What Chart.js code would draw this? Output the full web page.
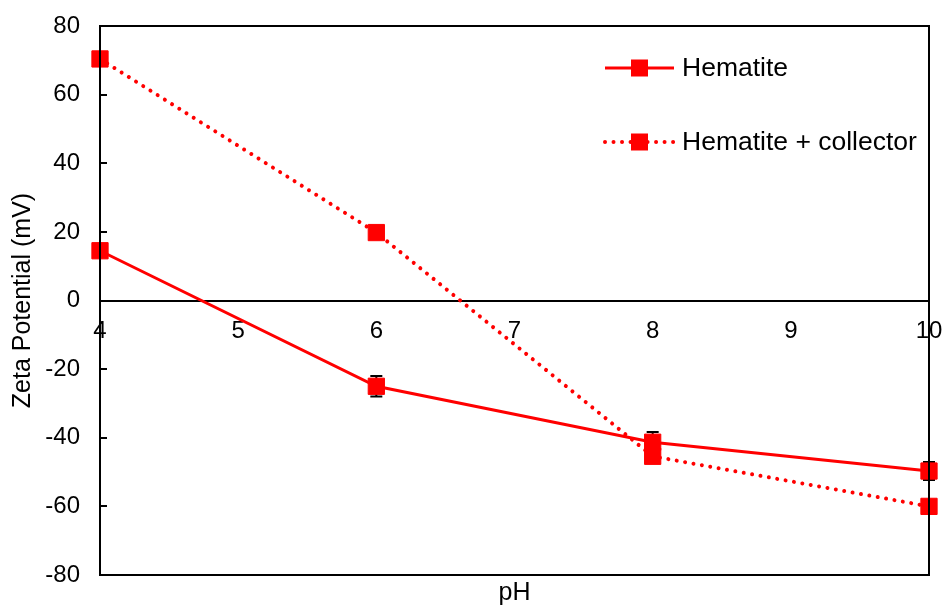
<!DOCTYPE html>
<html>
<head>
<meta charset="utf-8">
<script src="https://cdn.jsdelivr.net/npm/chart.js@4"></script>
<style>
  html, body { margin: 0; padding: 0; background: #fff; }
  #wrap { width: 946px; height: 608px; }
</style>
</head>
<body>
<div id="wrap"><canvas id="zetaChart" width="946" height="608"></canvas></div>
<script>
var phValues = [4, 6, 8, 10];
var hematiteData = [14.5, -25, -41.3, -49.7];
var hematiteErr = [1, 3, 3, 2.6];
var collectorData = [70.4, 19.8, -45.4, -60];
var collectorErr = [1, 1, 1, 1];
var seriesLabels = ['Hematite', 'Hematite + collector'];

var FONT = '"Liberation Sans", Arial, sans-serif';

function toPoints(xs, ys) {
    return xs.map(function (x, i) { return { x: x, y: ys[i] }; });
}

// tick padding is added to the layout padding, drop it
function noPad(scale) {
    scale.paddingTop = 0;
    scale.paddingBottom = 0;
    scale.paddingLeft = 0;
    scale.paddingRight = 0;
}

// error bars + box frame + legend in plot
var extras = {
    id: 'extras',
    beforeDatasetsDraw: function (chart) {
        var ctx = chart.ctx;
        var xs = chart.scales.x, ys = chart.scales.y;
        var errs = [hematiteErr, collectorErr];
        ctx.save();
        ctx.strokeStyle = '#000';
        ctx.lineWidth = 2;
        chart.data.datasets.forEach(function (ds, di) {
            ds.data.forEach(function (p, i) {
                var px = xs.getPixelForValue(p.x);
                var top = ys.getPixelForValue(p.y + errs[di][i]);
                var bot = ys.getPixelForValue(p.y - errs[di][i]);
                ctx.beginPath();
                ctx.moveTo(px, top); ctx.lineTo(px, bot);
                ctx.moveTo(px - 6, top); ctx.lineTo(px + 6, top);
                ctx.moveTo(px - 6, bot); ctx.lineTo(px + 6, bot);
                ctx.stroke();
            });
        });
        ctx.restore();
    },
    afterDraw: function (chart) {
        var ctx = chart.ctx;
        var a = chart.chartArea;
        ctx.save();
        ctx.strokeStyle = '#000';
        ctx.lineWidth = 2;
        ctx.strokeRect(a.left, a.top, a.right - a.left, a.bottom - a.top);

        var rows = [68, 142];
        chart.data.datasets.forEach(function (ds, i) {
            var y = rows[i];
            ctx.strokeStyle = ds.borderColor;
            ctx.lineWidth = ds.borderWidth;
            ctx.lineCap = ds.borderCapStyle || 'butt';
            ctx.setLineDash(ds.borderDash || []);
            ctx.beginPath();
            ctx.moveTo(605, y); ctx.lineTo(674, y);
            ctx.stroke();
            ctx.setLineDash([]);
            ctx.fillStyle = ds.pointBackgroundColor;
            ctx.fillRect(631, y - 8.5, 17, 17);
            ctx.fillStyle = '#000';
            ctx.font = '26.5px ' + FONT;
            ctx.textBaseline = 'middle';
            ctx.fillText(ds.label, 682, y + 1);
        });
        ctx.restore();
    }
};

new Chart(document.getElementById('zetaChart').getContext('2d'), {
    type: 'line',
    data: {
        datasets: [
            {
                label: seriesLabels[0],
                data: toPoints(phValues, hematiteData),
                borderColor: '#ff0000',
                backgroundColor: '#ff0000',
                pointBackgroundColor: '#ff0000',
                borderWidth: 3,
                pointStyle: 'rect',
                pointRadius: 11.5,
                pointBorderWidth: 1,
                pointBorderColor: '#ff0000'
            },
            {
                label: seriesLabels[1],
                data: toPoints(phValues, collectorData),
                borderColor: '#ff0000',
                backgroundColor: '#ff0000',
                pointBackgroundColor: '#ff0000',
                borderWidth: 4,
                borderDash: [0.01, 8.5],
                borderCapStyle: 'round',
                pointStyle: 'rect',
                pointRadius: 11.5,
                pointBorderWidth: 1,
                pointBorderColor: '#ff0000'
            }
        ]
    },
    options: {
        responsive: false,
        animation: false,
        clip: false,
        layout: { padding: { top: 26, right: 17, left: 0, bottom: 0 } },
        plugins: {
            legend: { display: false },
            tooltip: { enabled: false }
        },
        scales: {
            x: {
                type: 'linear',
                position: 'bottom',
                min: 4,
                max: 10,
                ticks: { display: false },
                grid: { display: false },
                border: { display: false },
                title: {
                    display: true,
                    text: 'pH',
                    color: '#000',
                    font: { family: FONT, size: 25 },
                    padding: { top: -4, bottom: 0 }
                },
                afterFit: function (scale) { scale.height = 33; noPad(scale); }
            },
            xZero: {
                type: 'linear',
                axis: 'x',
                position: { y: 0 },
                min: 4,
                max: 10,
                ticks: {
                    stepSize: 1,
                    color: '#000',
                    padding: 16,
                    font: { family: FONT, size: 24 }
                },
                grid: { drawOnChartArea: false, drawTicks: false },
                border: { display: true, color: '#000', width: 2 },
                afterFit: noPad
            },
            y: {
                min: -80,
                max: 80,
                ticks: {
                    stepSize: 20,
                    color: '#000',
                    padding: 27,
                    font: { family: FONT, size: 24 }
                },
                grid: {
                    drawOnChartArea: false,
                    drawTicks: true,
                    tickLength: -7,
                    color: '#000',
                    lineWidth: 2
                },
                border: { display: true, color: '#000', width: 2 },
                title: {
                    display: true,
                    text: 'Zeta Potential (mV)',
                    color: '#000',
                    font: { family: FONT, size: 25 },
                    padding: { top: 8, bottom: 0 }
                },
                afterFit: function (scale) { scale.width = 100; noPad(scale); }
            }
        }
    },
    plugins: [extras]
});
</script>
</body>
</html>
